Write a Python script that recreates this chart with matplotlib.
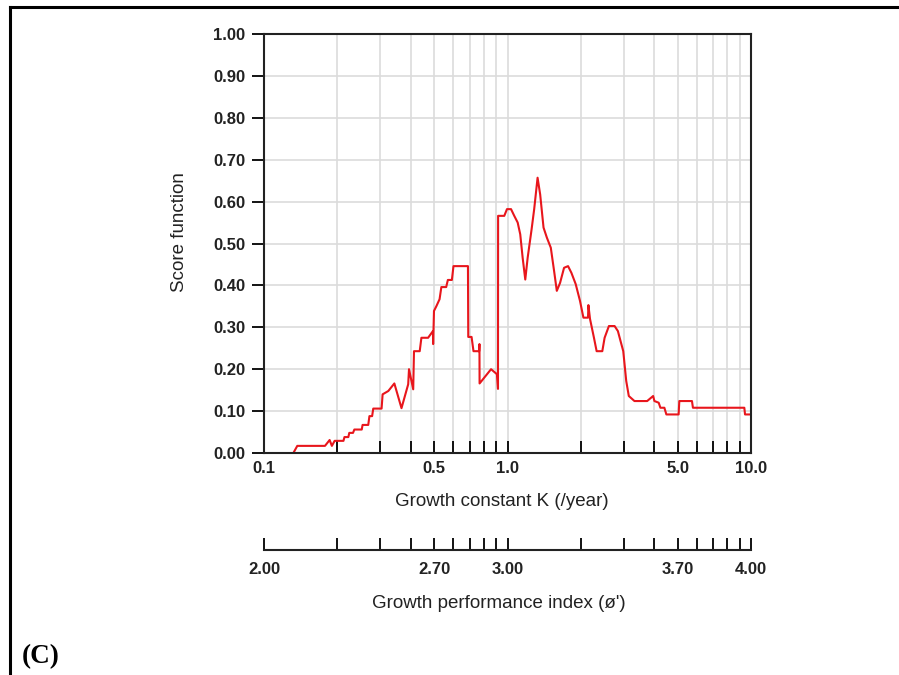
import matplotlib
matplotlib.use('Agg')
import matplotlib.pyplot as plt
from matplotlib.lines import Line2D
from matplotlib.ticker import FixedLocator, NullFormatter, FixedFormatter

plt.rcParams['font.family'] = ['Liberation Sans', 'DejaVu Sans']

# score function curve
k_values = [0.132, 0.137, 0.178, 0.186, 0.190, 0.195, 0.212, 0.214, 0.222, 0.224,
            0.232, 0.235, 0.252, 0.254, 0.268, 0.271, 0.278, 0.281, 0.304, 0.307,
            0.324, 0.343, 0.367,
            0.391, 0.394, 0.410, 0.413, 0.436, 0.443, 0.472, 0.494, 0.495, 0.499,
            0.510, 0.526, 0.535, 0.560, 0.569, 0.591, 0.600, 0.688, 0.690, 0.712,
            0.725, 0.765, 0.767, 0.768, 0.856, 0.905, 0.914, 0.915, 0.970, 0.995,
            1.034, 1.066, 1.101, 1.128, 1.154, 1.183, 1.210, 1.256, 1.287, 1.329,
            1.362, 1.406, 1.451, 1.506, 1.554, 1.594, 1.644, 1.707, 1.773, 1.830,
            1.906, 1.985, 2.050, 2.141, 2.149, 2.182, 2.265, 2.323, 2.451, 2.505,
            2.609, 2.753, 2.840, 2.988, 3.073, 3.149, 3.322, 3.746, 3.963, 4.012,
            4.178, 4.245, 4.408, 4.492, 5.044, 5.077, 5.722, 5.775, 9.389, 9.452,
            10.0]
scores = [0.000, 0.017, 0.017, 0.031, 0.017, 0.029, 0.029, 0.038, 0.038, 0.048,
          0.048, 0.056, 0.056, 0.067, 0.067, 0.088, 0.088, 0.106, 0.106, 0.140,
          0.148, 0.166, 0.107,
          0.164, 0.200, 0.152, 0.243, 0.243, 0.275, 0.275, 0.291, 0.260, 0.339,
          0.350, 0.367, 0.396, 0.396, 0.413, 0.413, 0.446, 0.446, 0.277, 0.277,
          0.243, 0.243, 0.260, 0.166, 0.200, 0.188, 0.153, 0.566, 0.566, 0.582,
          0.582, 0.566, 0.550, 0.522, 0.466, 0.414, 0.466, 0.534, 0.582, 0.657,
          0.617, 0.538, 0.514, 0.490, 0.434, 0.387, 0.406, 0.442, 0.446, 0.430,
          0.403, 0.363, 0.323, 0.323, 0.353, 0.320, 0.275, 0.243, 0.243, 0.275,
          0.303, 0.303, 0.291, 0.243, 0.172, 0.136, 0.124, 0.124, 0.136, 0.124,
          0.120, 0.108, 0.108, 0.092, 0.092, 0.124, 0.124, 0.108, 0.108, 0.092,
          0.092]

y_ticks = [0.0, 0.1, 0.2, 0.3, 0.4, 0.5, 0.6, 0.7, 0.8, 0.9, 1.0]
k_major = [0.1, 0.5, 1.0, 5.0, 10.0]
k_labels = ['0.1', '0.5', '1.0', '5.0', '10.0']
k_minor = [0.2, 0.3, 0.4, 0.6, 0.7, 0.8, 0.9, 2, 3, 4, 6, 7, 8, 9]
phi_labels = ['2.00', '2.70', '3.00', '3.70', '4.00']

TICK_FS = 12
LABEL_FS = 13.5
INK = '#222222'

fig = plt.figure(figsize=(8.99, 6.75), dpi=100)

ax = fig.add_axes([264 / 899, 1 - 453 / 675, 487 / 899, 419 / 675])
ax.plot(k_values, scores, color='#e8161c', lw=1.5)
ax.set_xscale('log')
ax.set_xlim(0.1, 10)
ax.set_ylim(0, 1)

ax.xaxis.set_major_locator(FixedLocator(k_major))
ax.xaxis.set_major_formatter(FixedFormatter(k_labels))
ax.xaxis.set_minor_locator(FixedLocator(k_minor))
ax.xaxis.set_minor_formatter(NullFormatter())
ax.set_yticks(y_ticks)
ax.set_yticklabels([f'{v:.2f}' for v in y_ticks])

ax.grid(True, which='both', axis='x', color='#dcdcdc', lw=1.2)
ax.grid(True, which='major', axis='y', color='#dcdcdc', lw=1.2)
ax.set_axisbelow(True)

ax.tick_params(axis='x', which='both', direction='in', length=9, width=1.3,
               labelsize=TICK_FS, pad=6)
ax.tick_params(axis='y', direction='out', length=9, width=1.3,
               labelsize=TICK_FS, pad=4.5)
for lab in ax.get_xticklabels() + ax.get_yticklabels():
    lab.set_fontweight('bold')
    lab.set_color(INK)
for s in ax.spines.values():
    s.set_linewidth(1.5)
    s.set_color(INK)

ax.set_xlabel('Growth constant K (/year)', fontsize=LABEL_FS, color=INK)
ax.xaxis.set_label_coords(502 / 899, 1 - 493 / 675, transform=fig.transFigure)
ax.set_ylabel('Score function', fontsize=LABEL_FS, color=INK)
ax.yaxis.set_label_coords(188 / 899, 1 - 232 / 675, transform=fig.transFigure)

# second scale for the growth performance index
ax2 = fig.add_axes([264 / 899, 1 - 550 / 675, 487 / 899, 0.001])
ax2.set_xscale('log')
ax2.set_xlim(0.1, 10)
ax2.set_yticks([])
for side in ['top', 'left', 'right']:
    ax2.spines[side].set_visible(False)
ax2.spines['bottom'].set_linewidth(1.5)
ax2.spines['bottom'].set_color(INK)
ax2.xaxis.set_major_locator(FixedLocator(k_major))
ax2.xaxis.set_major_formatter(FixedFormatter(phi_labels))
ax2.xaxis.set_minor_locator(FixedLocator(k_minor))
ax2.xaxis.set_minor_formatter(NullFormatter())
ax2.tick_params(axis='x', which='both', direction='in', length=9, width=1.3,
                labelsize=TICK_FS, pad=9)
for lab in ax2.get_xticklabels():
    lab.set_fontweight('bold')
    lab.set_color(INK)
ax2.set_xlabel("Growth performance index (\u00f8')", fontsize=LABEL_FS, color=INK)
ax2.xaxis.set_label_coords(499 / 899, 1 - 595 / 675, transform=fig.transFigure)

# frame of the table cell
fig.add_artist(Line2D([10 / 899, 10 / 899], [0, 1 - 7 / 675], color='black', lw=2.2))
fig.add_artist(Line2D([10 / 899, 1], [1 - 7 / 675, 1 - 7 / 675], color='black', lw=2.2))
fig.text(22 / 899, 1 - 663 / 675, '(C)', family='Liberation Serif',
         fontweight='bold', fontsize=19.5, va='baseline', ha='left')

fig.savefig('out.png', dpi=100)
